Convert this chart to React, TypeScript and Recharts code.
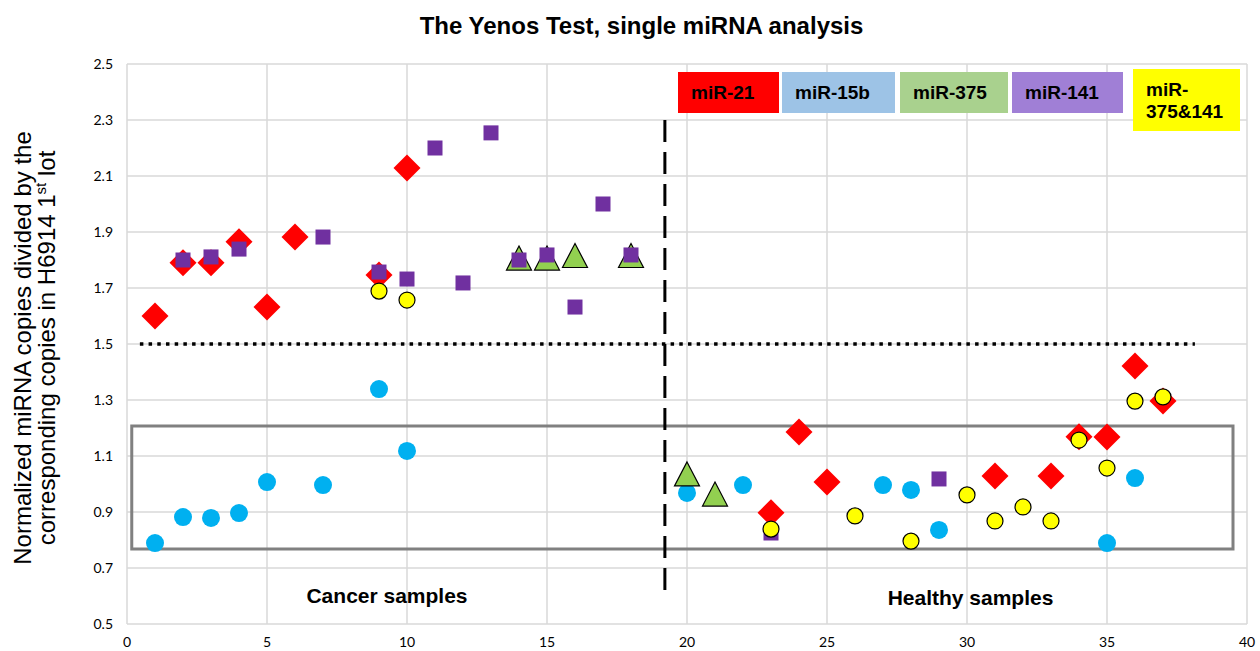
import React from 'react';
import { ScatterChart, Scatter, XAxis, YAxis, CartesianGrid, ReferenceLine, ReferenceArea } from 'recharts';

const xTicks = [0, 5, 10, 15, 20, 25, 30, 35, 40];
const yTicks = [0.5, 0.7, 0.9, 1.1, 1.3, 1.5, 1.7, 1.9, 2.1, 2.3, 2.5];

const miR21Samples = [1, 2, 3, 4, 5, 6, 9, 10, 23, 24, 25, 31, 33, 34, 35, 36, 37];
const miR21Values = [1.6, 1.79, 1.79, 1.865, 1.632, 1.882, 1.746, 2.129, 0.897, 1.186, 1.007, 1.029, 1.029, 1.169, 1.168, 1.421, 1.296];

const miR15bSamples = [1, 2, 3, 4, 5, 7, 9, 10, 20, 22, 27, 28, 29, 35, 36];
const miR15bValues = [0.789, 0.882, 0.879, 0.896, 1.007, 0.996, 1.339, 1.118, 0.968, 0.996, 0.996, 0.979, 0.836, 0.789, 1.021];

const miR375Samples = [14, 15, 18, 16, 20, 21];
const miR375Values = [1.807, 1.807, 1.816, 1.816, 1.036, 0.964];

const miR141Samples = [2, 3, 4, 7, 9, 10, 11, 12, 13, 14, 15, 16, 17, 18, 23, 29];
const miR141Values = [1.8, 1.811, 1.839, 1.882, 1.757, 1.732, 2.2, 1.718, 2.254, 1.8, 1.818, 1.632, 2.0, 1.818, 0.825, 1.018];

const miR375and141Samples = [9, 10, 23, 26, 28, 30, 31, 32, 33, 34, 35, 36, 37];
const miR375and141Values = [1.689, 1.657, 0.839, 0.886, 0.796, 0.961, 0.868, 0.918, 0.868, 1.157, 1.057, 1.296, 1.311];

const legendLabels = ['miR-21', 'miR-15b', 'miR-375', 'miR-141'];
const legendColors = ['#ff0000', '#9dc3e6', '#a9d18e', '#a07fd6'];
const legendLeft = [678, 782, 900, 1012];
const legendRight = [779, 895, 1008, 1123];

const toPoints = (xs: number[], ys: number[]) => xs.map((x, i) => ({ x, y: ys[i] }));

const FONT = '"Liberation Sans", Arial, sans-serif';
const TICK_FONT = 'Lato, "Open Sans", sans-serif';

const Diamond = (p: any) => {
  const { cx, cy } = p;
  const r = 13.5;
  return <polygon points={`${cx},${cy - r} ${cx + r},${cy} ${cx},${cy + r} ${cx - r},${cy}`} fill="#ff0000" />;
};
const BlueDot = (p: any) => <circle cx={p.cx} cy={p.cy} r={9} fill="#00b0f0" />;
const Triangle = (p: any) => {
  const { cx, cy } = p;
  const w = 12.5;
  const h = 12;
  return (
    <polygon
      points={`${cx},${cy - h} ${cx + w},${cy + h} ${cx - w},${cy + h}`}
      fill="#92d050"
      stroke="#000"
      strokeWidth={1.2}
      strokeLinejoin="miter"
    />
  );
};
const Square = (p: any) => <rect x={p.cx - 7.5} y={p.cy - 7.5} width={15} height={15} fill="#7030a0" />;
const YellowDot = (p: any) => <circle cx={p.cx} cy={p.cy} r={8} fill="#ffff00" stroke="#000" strokeWidth={1.2} />;

export default function App() {
  return (
    <div style={{ position: 'absolute', left: 0, top: 0, width: 1260, height: 651, background: '#fff' }}>
      <ScatterChart width={1260} height={651} margin={{ top: 64, right: 13, bottom: 0, left: 0 }}>
        <CartesianGrid stroke="#d9d9d9" strokeWidth={1.5} />
        <XAxis
          type="number"
          dataKey="x"
          domain={[0, 40]}
          ticks={xTicks}
          height={27}
          axisLine={false}
          tickLine={false}
          tickSize={6}
          tickMargin={7}
          tick={{ fill: '#000', fontSize: 14, fontFamily: TICK_FONT }}
          allowDataOverflow
        />
        <YAxis
          type="number"
          dataKey="y"
          domain={[0.5, 2.5]}
          ticks={yTicks}
          width={127}
          axisLine={false}
          tickLine={false}
          tickSize={6}
          tickMargin={8}
          tickFormatter={(v: number) => v.toFixed(1)}
          tick={{ fill: '#000', fontSize: 14, fontFamily: TICK_FONT }}
          allowDataOverflow
        />
        <ReferenceArea x1={0.17} x2={39.5} y1={0.768} y2={1.207} fill="none" fillOpacity={0} stroke="#808080" strokeWidth={3} />
        <ReferenceLine segment={[{ x: 0.46, y: 1.5 }, { x: 38.14, y: 1.5 }]} stroke="#000" strokeWidth={3.5} strokeDasharray="3.5 5.2" />
        <ReferenceLine segment={[{ x: 19.21, y: 2.3 }, { x: 19.21, y: 0.593 }]} stroke="#000" strokeWidth={3} strokeDasharray="22 10" />
        <Scatter data={toPoints(miR21Samples, miR21Values)} shape={Diamond} isAnimationActive={false} />
        <Scatter data={toPoints(miR15bSamples, miR15bValues)} shape={BlueDot} isAnimationActive={false} />
        <Scatter data={toPoints(miR375Samples, miR375Values)} shape={Triangle} isAnimationActive={false} />
        <Scatter data={toPoints(miR141Samples, miR141Values)} shape={Square} isAnimationActive={false} />
        <Scatter data={toPoints(miR375and141Samples, miR375and141Values)} shape={YellowDot} isAnimationActive={false} />
      </ScatterChart>
      <svg width={1260} height={651} style={{ position: 'absolute', left: 0, top: 0, pointerEvents: 'none' }}>
        <text x={641.5} y={34} textAnchor="middle" fontSize={24} fontWeight="bold" fontFamily={FONT} fill="#000">
          The Yenos Test, single miRNA analysis
        </text>
        <g transform="translate(0,348) rotate(-90)" fontFamily={FONT} fontSize={24} fill="#000">
          <text x={0} y={31} textAnchor="middle">Normalized miRNA copies divided by the</text>
          <text x={0} y={55} textAnchor="middle">
            corresponding copies in H6914 1<tspan fontSize={15} dy={-9}>st</tspan>
            <tspan dy={9}> lot</tspan>
          </text>
        </g>
        <text x={387} y={603} textAnchor="middle" fontSize={21} fontWeight="bold" fontFamily={FONT} fill="#000">
          Cancer samples
        </text>
        <text x={970.5} y={605} textAnchor="middle" fontSize={21} fontWeight="bold" fontFamily={FONT} fill="#000">
          Healthy samples
        </text>
        {legendLabels.map((lab, i) => (
          <g key={lab}>
            <rect x={legendLeft[i]} y={72} width={legendRight[i] - legendLeft[i]} height={41} fill={legendColors[i]} />
            <text x={legendLeft[i] + 13} y={99} fontSize={19} fontWeight="bold" fontFamily={FONT} fill="#000">
              {lab}
            </text>
          </g>
        ))}
        <rect x={1133} y={69} width={107} height={62} fill="#ffff00" />
        <text x={1146} y={96} fontSize={19} fontWeight="bold" fontFamily={FONT} fill="#000">miR-</text>
        <text x={1146} y={118} fontSize={19} fontWeight="bold" fontFamily={FONT} fill="#000">375&amp;141</text>
      </svg>
    </div>
  );
}
